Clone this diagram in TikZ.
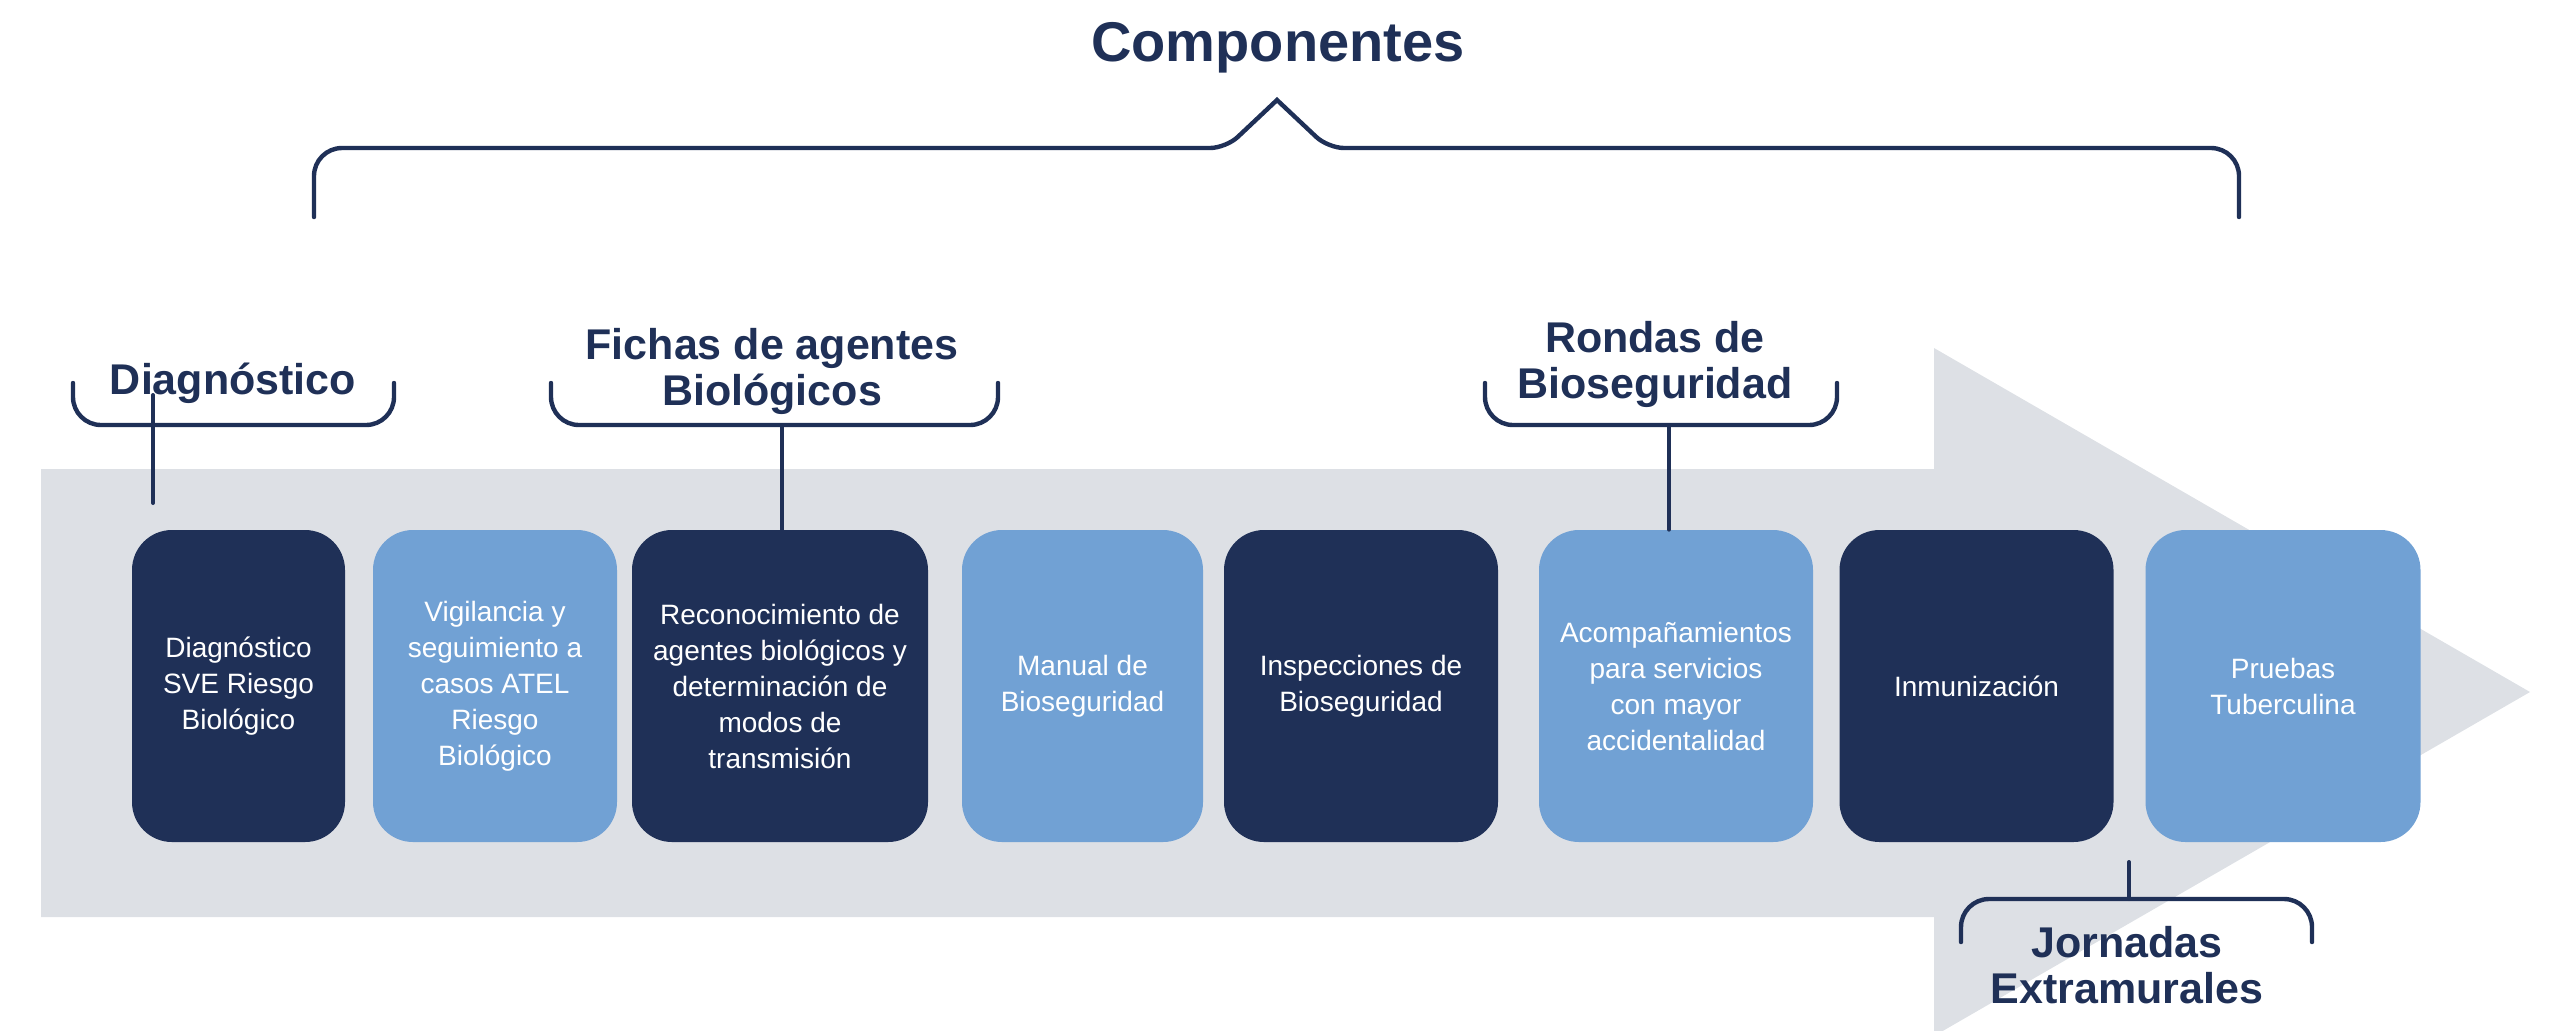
\documentclass[tikz,border=0pt]{standalone}
\usepackage{fontspec}
\setmainfont{Liberation Sans}
\definecolor{azulescuro}{RGB}{31,48,87}
\definecolor{azulclaro}{RGB}{113,161,212}
\definecolor{grisfondo}{RGB}{221,224,229}
\newcommand{\corA}{azulescuro}
\newcommand{\corB}{azulclaro}
\newcommand{\corC}{grisfondo}
\tikzset{
  caja/.style={rounded corners=20pt, minimum height=156pt, inner sep=0pt, align=center,
    text=white, font=\fontsize{14}{18}\selectfont},
  rotulo/.style={text=\corA, inner sep=0pt, align=center,
    font=\bfseries\fontsize{21.5}{23}\selectfont},
  llave/.style={draw=\corA, line width=2.2pt, rounded corners=14pt, line cap=round},
  conector/.style={draw=\corA, line width=2pt, line cap=round},
}
\begin{document}
\begin{tikzpicture}[x=0.5pt, y=-0.5pt]
        \useasboundingbox (0,0) rectangle (2553,1030);
        \clip (0,0) rectangle (2553,1030);

          % flecha de fondo
        \fill [\corC] (41,469) -- (1934,469) -- (1934,348) -- (2530,692) -- (1934,1036) -- (1934,917) -- (41,917) -- cycle;

          % cajas
        \node [caja, fill=\corA, minimum width=106.5pt] (b1) at (238.5,686) {Diagnóstico\\SVE Riesgo\\Biológico};
        \node [caja, fill=\corB, minimum width=122pt] (b2) at (495,686) {Vigilancia y\\seguimiento a\\casos ATEL\\Riesgo\\Biológico};
        \node [caja, fill=\corA, minimum width=148pt] (b3) at (780,686) {Reconocimiento de\\agentes biológicos y\\determinación de\\modos de\\transmisión};
        \node [caja, fill=\corB, minimum width=120.5pt] (b4) at (1082.5,686) {Manual de\\Bioseguridad};
        \node [caja, fill=\corA, minimum width=137pt] (b5) at (1361,686) {Inspecciones de\\Bioseguridad};
        \node [caja, fill=\corB, minimum width=137pt] (b6) at (1676,686) {Acompañamientos\\para servicios\\con mayor\\accidentalidad};
        \node [caja, fill=\corA, minimum width=137pt] (b7) at (1976.5,686) {Inmunización};
        \node [caja, fill=\corB, minimum width=137.5pt] (b8) at (2283,686) {Pruebas\\Tuberculina};

          % llave de componentes
        \draw [llave] (314,217) -- (314,148) [rounded corners=8pt] -- (1226,148) [sharp corners] -- (1277,100) [rounded corners=8pt] -- (1328,148) [rounded corners=14pt] -- (2239,148) -- (2239,217);
        \node [rotulo, font=\bfseries\fontsize{28}{30}\selectfont, anchor=base] (comp) at (1278,61) {Componentes};

          % llave diagnostico
        \draw [llave] (73,383) -- (73,425) -- (394,425) -- (394,383);
        \node [rotulo, anchor=base] (diag) at (233,394) {Diagnóstico};
        \coordinate (diagA) at (153,395);
        \coordinate (diagB) at (153,503);
        \draw [conector] (diagA) -- (diagB);

          % llave fichas
        \draw [llave] (551,383) -- (551,425) -- (998,425) -- (998,383);
        \node [rotulo] (fichas) at (772,371) {Fichas de agentes\\Biológicos};
        \coordinate (fichasC) at (782,425);
        \draw [conector] (fichasC) -- (fichasC |- b3.north);

          % llave rondas
        \draw [llave] (1485,383) -- (1485,425) -- (1837,425) -- (1837,383);
        \node [rotulo] (rondas) at (1655,364) {Rondas de\\Bioseguridad};
        \coordinate (rondasC) at (1669,425);
        \draw [conector] (rondasC) -- (rondasC |- b6.north);

          % llave jornadas
        \draw [llave] (1961,942) -- (1961,899) -- (2312,899) -- (2312,942);
        \node [rotulo] (jornadas) at (2127,965) {Jornadas\\Extramurales};
        \coordinate (jornC) at (2129,899);
        \coordinate (jornD) at (2129,862);
        \draw [conector] (jornC) -- (jornD);

    \end{tikzpicture}
\end{document}
